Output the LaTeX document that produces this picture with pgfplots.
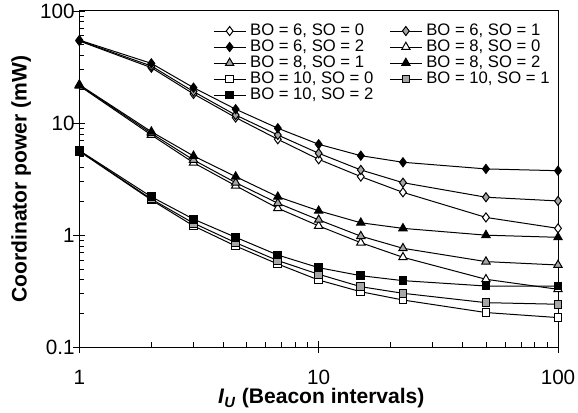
\documentclass[border=0pt]{standalone}
\usepackage{fontspec}
\setmainfont{Liberation Sans}
\usepackage{pgfplots}
\usepackage{pgfplotstable}
\pgfplotsset{compat=1.18}
\definecolor{midgray}{RGB}{166,166,166}

% columns: a,b,c = BO 6 (SO 0,1,2); d,e,f = BO 8; g,h,i = BO 10
\pgfplotstableread{
x    a     b     c     d      e      f      g      h      i
1    54.0  54.5  55.0  21.5   21.8   22.0   5.60   5.65   5.70
2    31.2  32.3  34.1  7.83   8.10   8.38   2.06   2.10   2.20
3    18.2  19.1  20.7  4.43   4.69   5.09   1.21   1.28   1.39
4.5  11.2  11.8  13.3  2.76   2.94   3.33   0.800  0.857  0.957
6.75 7.17  7.83  9.00  1.74   1.93   2.20   0.553  0.593  0.665
10   4.75  5.38  6.47  1.21   1.37   1.65   0.398  0.448  0.513
15   3.33  3.82  5.12  0.857  0.980  1.29   0.313  0.347  0.435
22.5 2.41  2.94  4.47  0.635  0.764  1.15   0.264  0.303  0.393
50   1.44  2.18  3.90  0.404  0.581  1.00   0.204  0.250  0.352
100  1.15  2.02  3.76  0.329  0.542  0.957  0.184  0.242  0.352
}\powertab

\begin{document}
\begin{tikzpicture}
\begin{axis}[
    name=ax,
    scale only axis,
    width=359pt, height=252.2pt,
    xmode=log, ymode=log,
    xmin=1, xmax=100, ymin=0.1, ymax=100,
    log ticks with fixed point,
    /pgf/number format/assume math mode=true,
    tick pos=left,
    tick align=center,
    major tick length=9pt,
    minor tick length=3.75pt,
    every minor x tick/.append style={yshift=1.875pt},
    every minor y tick/.append style={xshift=1.875pt},
    tick style={black, line width=0.6pt},
    axis line style={black, line width=0.75pt},
    tick label style={font=\fontsize{15.5}{18}\selectfont},
    xticklabel style={anchor=base, inner sep=0pt, yshift=-23.5pt},
    yticklabel style={xshift=4.5pt},
    label style={font=\bfseries\fontsize{15.8}{18}\selectfont},
    xlabel={\textit{I}\textsubscript{\textit{U}} (Beacon intervals)},
    ylabel={Coordinator power (mW)},
    xlabel style={at={(axis description cs:0.5,0)}, anchor=base, inner sep=0pt,
        xshift=2pt, yshift=-42.3pt},
    legend columns=2,
    legend cell align=left,
    legend image code/.code={\draw[mark repeat=2,mark phase=2] plot coordinates {(0pt,0pt) (12pt,0pt) (24pt,0pt)};},
    legend style={at={(0.279,0.965)}, anchor=north west, draw=none, fill=none,
        inner sep=0pt, font=\fontsize{12.5}{15}\selectfont,
        nodes={inner xsep=3pt, inner ysep=0pt, text height=9pt, text depth=3pt},
        /tikz/every even column/.append style={column sep=9pt}},
    every axis plot/.append style={black, line width=0.75pt, mark options={solid, line width=0.5pt}},
]
\addplot[mark=diamond*, mark size=3.4pt, mark options={fill=white}] table[x=x,y=a]{\powertab};
\addlegendentry{BO = 6, SO = 0}
\addplot[mark=diamond*, mark size=3.4pt, mark options={fill=midgray}] table[x=x,y=b]{\powertab};
\addlegendentry{BO = 6, SO = 1}
\addplot[mark=diamond*, mark size=3.4pt, mark options={fill=black}] table[x=x,y=c]{\powertab};
\addlegendentry{BO = 6, SO = 2}
\addplot[mark=triangle*, mark size=3.6pt, mark options={fill=white}] table[x=x,y=d]{\powertab};
\addlegendentry{BO = 8, SO = 0}
\addplot[mark=triangle*, mark size=3.6pt, mark options={fill=midgray}] table[x=x,y=e]{\powertab};
\addlegendentry{BO = 8, SO = 1}
\addplot[mark=triangle*, mark size=3.6pt, mark options={fill=black}] table[x=x,y=f]{\powertab};
\addlegendentry{BO = 8, SO = 2}
\addplot[mark=square*, mark size=2.9pt, mark options={fill=white}] table[x=x,y=g]{\powertab};
\addlegendentry{BO = 10, SO = 0}
\addplot[mark=square*, mark size=2.9pt, mark options={fill=midgray}] table[x=x,y=h]{\powertab};
\addlegendentry{BO = 10, SO = 1}
\addplot[mark=square*, mark size=2.9pt, mark options={fill=black}] table[x=x,y=i]{\powertab};
\addlegendentry{BO = 10, SO = 2}
\end{axis}
\pgfresetboundingbox
\path[use as bounding box] ([xshift=-59.5pt,yshift=-49.3pt]ax.south west) rectangle ([xshift=15pt,yshift=8.25pt]ax.north east);
\end{tikzpicture}
\end{document}
